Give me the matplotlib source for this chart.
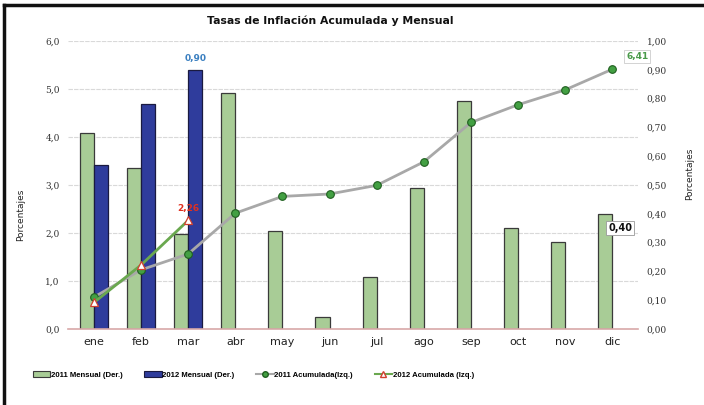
import matplotlib
matplotlib.use("Agg")
import matplotlib.pyplot as plt
import numpy as np
from matplotlib.lines import Line2D
from matplotlib.patches import Patch

months = ["ene", "feb", "mar", "abr", "may", "jun", "jul", "ago", "sep", "oct", "nov", "dic"]
mensual_2011 = [0.68, 0.56, 0.33, 0.82, 0.34, 0.04, 0.18, 0.49, 0.79, 0.35, 0.30, 0.40]
mensual_2012 = [0.57, 0.78, 0.90]
acum_2011 = [0.66, 1.23, 1.56, 2.41, 2.76, 2.81, 2.99, 3.48, 4.30, 4.67, 4.98, 5.41]
acum_2012 = [0.55, 1.33, 2.26]
left_ticks = [0, 1, 2, 3, 4, 5, 6]
right_ticks = [0.0, 0.1, 0.2, 0.3, 0.4, 0.5, 0.6, 0.7, 0.8, 0.9, 1.0]
label_dic_2011 = "6,41"

green_bar = "#a8cc96"
blue_bar = "#2f3c9c"
grey_line = "#a8a8a8"
green_line = "#6aa84f"

fig = plt.figure(figsize=(7.04, 4.05), dpi=100)
ax = fig.add_axes([0.0966, 0.188, 0.81, 0.711])
ax2 = ax.twinx()

x = np.arange(len(months))
w = 0.3

# Gridlines (behind bars), at the left-axis ticks
for t in left_ticks[1:]:
    ax2.axhline(t / left_ticks[-1] * right_ticks[-1], color="#d9d9d9", linewidth=0.8,
                linestyle=(0, (4, 1)), zorder=0)

# Bars on right axis
ax2.bar(x - w / 2, mensual_2011, width=w, color=green_bar, edgecolor="#3a3a3a", linewidth=0.9, zorder=2)
ax2.bar(x[:len(mensual_2012)] + w / 2, mensual_2012, width=w, color=blue_bar, edgecolor="#1a1a40", linewidth=0.9, zorder=2)
ax2.set_ylim(0, 1.0)
ax2.set_yticks(right_ticks)
ax2.set_yticklabels([f"{v:.2f}".replace(".", ",") for v in right_ticks], fontsize=6.5, family="DejaVu Serif", color="#333333")

# Lines on left axis, drawn on top
ax.set_zorder(ax2.get_zorder() + 1)
ax.patch.set_visible(False)
ax.plot(x, acum_2011, color=grey_line, linewidth=2, marker="o", markersize=5.5,
        markerfacecolor="#43a043", markeredgecolor="#1f5f1f", markeredgewidth=0.8, zorder=4)
ax.plot(x[:len(acum_2012)], acum_2012, color=green_line, linewidth=2, marker="^", markersize=5.5,
        markerfacecolor="white", markeredgecolor="#d04030", markeredgewidth=0.9, zorder=5)
ax.set_ylim(0, 6)
ax.set_xlim(-0.55, 11.55)
ax.set_yticks(left_ticks)
ax.set_yticklabels([f"{v:.1f}".replace(".", ",") for v in left_ticks], fontsize=6.5, family="DejaVu Serif", color="#333333")
ax.set_xticks(x)
ax.set_xticklabels(months, fontsize=8, color="#222222")

for a in (ax, ax2):
    for s in a.spines.values():
        s.set_visible(False)
    a.tick_params(length=0, pad=6)
ax.spines["bottom"].set_visible(True)
ax.spines["bottom"].set_color("#d8a8a8")
ax.spines["bottom"].set_linewidth(1.2)

# Data labels
ax2.annotate(f"{mensual_2012[2]:.2f}".replace(".", ","), (x[2] + w / 2, mensual_2012[2]),
             xytext=(0, 5), textcoords="offset points", ha="center", va="bottom",
             fontsize=6.5, fontweight="bold", color="#3a7fc0")
ax.annotate(f"{acum_2012[2]:.2f}".replace(".", ","), (x[2], acum_2012[2]),
            xytext=(0, 5), textcoords="offset points", ha="center", va="bottom",
            fontsize=6.5, fontweight="bold", color="#e03020")
ax.annotate(label_dic_2011, (x[11], acum_2011[11]),
            xytext=(10, 6), textcoords="offset points", ha="left", va="bottom",
            fontsize=6.5, fontweight="bold", color="#4a9a4a",
            bbox=dict(boxstyle="square,pad=0.2", fc="white", ec="#cccccc", lw=0.6))
ax2.annotate(f"{mensual_2011[11]:.2f}".replace(".", ","), (x[11] - w / 2, mensual_2011[11]),
             xytext=(2, -10), textcoords="offset points", ha="left", va="center",
             fontsize=7, fontweight="bold", color="#111111",
             bbox=dict(boxstyle="square,pad=0.2", fc="white", ec="#999999", lw=0.6))

fig.text(0.469, 0.948, "Tasas de Inflación Acumulada y Mensual",
         ha="center", va="center", fontsize=7.8, fontweight="bold", color="#111111")

fig.text(0.030, 0.47, "Porcentajes", rotation=90, ha="center", va="center", fontsize=6.5, color="#222222")
fig.text(0.980, 0.57, "Porcentajes", rotation=90, ha="center", va="center", fontsize=6.5, color="#222222")

handles = [
    Patch(facecolor=green_bar, edgecolor="#3a3a3a", linewidth=0.8),
    Patch(facecolor=blue_bar, edgecolor="#1a1a40", linewidth=0.8),
    Line2D([0], [0], color=grey_line, lw=1.5, marker="o", markersize=4,
           markerfacecolor="#43a043", markeredgecolor="#1f5f1f"),
    Line2D([0], [0], color=green_line, lw=1.5, marker="^", markersize=4,
           markerfacecolor="white", markeredgecolor="#d04030"),
]
labels = ["2011 Mensual (Der.)", "2012 Mensual (Der.)", "2011 Acumulada(Izq.)", "2012 Acumulada (Izq.)"]
fig.legend(handles, labels, loc="center", bbox_to_anchor=(0.36, 0.074), ncol=4, frameon=False,
           prop={"size": 5.6, "weight": "bold", "family": "Liberation Sans"},
           handlelength=2.2, handleheight=0.7, columnspacing=2.8, handletextpad=0.1)

# Frame on left and top
fig.add_artist(Line2D([0.006, 0.006], [0, 0.988], transform=fig.transFigure, color="#111111", lw=2.5))
fig.add_artist(Line2D([0.006, 1.0], [0.988, 0.988], transform=fig.transFigure, color="#111111", lw=2.5))

fig.savefig("out.png", dpi=100)
